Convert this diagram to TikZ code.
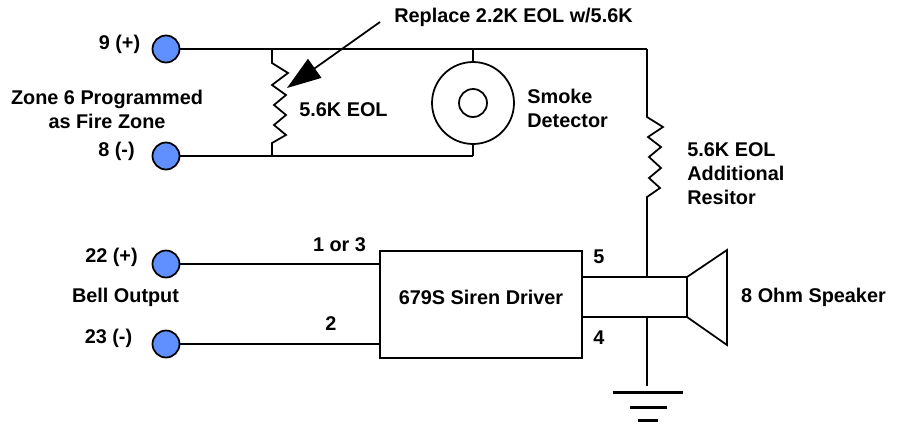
\documentclass[tikz,border=0pt]{standalone}
\usepackage{fontspec}
\setmainfont{Liberation Sans}
\usetikzlibrary{arrows.meta}
\definecolor{termblue}{RGB}{96,144,255}

\tikzset{
	wire/.style={line width=1pt, line join=miter},
	terminal/.style={circle, draw, line width=1pt, fill=termblue, minimum size=0.54cm, inner sep=0pt},
	lbl/.style={font=\bfseries\fontsize{11.3}{13.6}\selectfont, inner sep=0pt},
	lblleft/.style={lbl, anchor=west, align=left}
}

\begin{document}
\begin{tikzpicture}[x=0.02cm,y=-0.02cm]
		\useasboundingbox (0,0) rectangle (901,423);

		% Terminals
		\node[terminal] (t9) at (166,49) {};
		\node[terminal] (t8) at (166,156) {};
		\node[terminal] (t22) at (166,264) {};
		\node[terminal] (t23) at (166,344) {};
		\node[lbl] at (119.5,44) {9 (+)};
		\node[lbl] at (116.5,151) {8 (-)};
		\node[lbl] at (111.5,257) {22 (+)};
		\node[lbl] at (108.5,338) {23 (-)};
		\node[lbl, align=center] at (107,109) {Zone 6 Programmed\\as Fire Zone};
		\node[lbl] at (125.5,297) {Bell Output};

		% Zone wiring
		\coordinate (topright) at (647,49);
		\coordinate (resA) at (272,49);
		\coordinate (resB) at (272,156);
		\node[circle, draw, wire, minimum size=1.64cm, inner sep=0pt] (smoke) at (473,103) {};
		\node[circle, draw, wire, minimum size=0.56cm, inner sep=0pt] at (473,103) {};
		\draw[wire] (t9) -- (topright);
		\draw[wire] (t8) -- (smoke.south |- t8);
		\draw[wire] (smoke.north |- t9) -- (smoke.north);
		\draw[wire] (smoke.south) -- (smoke.south |- t8);

		% Resistor across the zone
		\draw[wire] (resA) -- (272,63) -- (288,73) -- (272,85) -- (286,95) -- (274,105)
			-- (286,115) -- (274,125) -- (286,135) -- (272,143) -- (resB);
		\node[lbl] at (343.5,110) {5.6K EOL};
		\node[lblleft] at (527,108) {Smoke\\Detector};

		% Replacement note
		\coordinate (notestart) at (380,22);
		\coordinate (notetip) at (287,88);
		\draw[wire, -{Triangle[length=0.68cm,width=0.46cm]}] (notestart) -- (notetip);
		\node[lbl] at (513.5,17) {Replace 2.2K EOL w/5.6K};

		% Siren driver
		\node[draw, wire, minimum width=4.04cm, minimum height=2.14cm, inner sep=0pt] (driver) at (481,304.5) {};
		\node[lbl] at (481,297) {679S Siren Driver};
		\draw[wire] (t22) -- (driver.west |- t22);
		\draw[wire] (t23) -- (driver.west |- t23);
		\node[lbl] at (339.5,245) {1 or 3};
		\node[lbl] at (331,324) {2};
		\node[lbl] at (599,257) {5};
		\node[lbl] at (599,338) {4};

		% Speaker
		\coordinate (spkA) at (687,277);
		\coordinate (spkB) at (687,317);
		\coordinate (gndtop) at (647,317);
		\coordinate (spktop) at (647,277);
		\draw[wire] (driver.east |- spkA) -- (spkA) -- (spkB) -- (driver.east |- spkB);
		\draw[wire] (spkA) -- (727,250) -- (727,345) -- (spkB);
		\node[lbl] at (813.5,297) {8 Ohm Speaker};

		% Additional resistor
		\draw[wire] (topright) -- (647,117) -- (663,127) -- (648,137) -- (661,147) -- (649,157)
			-- (661,168) -- (649,178) -- (660,188) -- (647,197) -- (spktop);
		\node[lblleft] at (687,174) {5.6K EOL\\Additional\\Resitor};

		% Ground
		\coordinate (gnd) at (647,386);
		\draw[wire] (gndtop) -- (gnd);
		\draw[line width=1.7pt] (613,392) -- (683,392);
		\draw[line width=1.7pt] (630,407) -- (667,407);
		\draw[line width=1.7pt] (638,420) -- (658,420);
	\end{tikzpicture}
\end{document}
